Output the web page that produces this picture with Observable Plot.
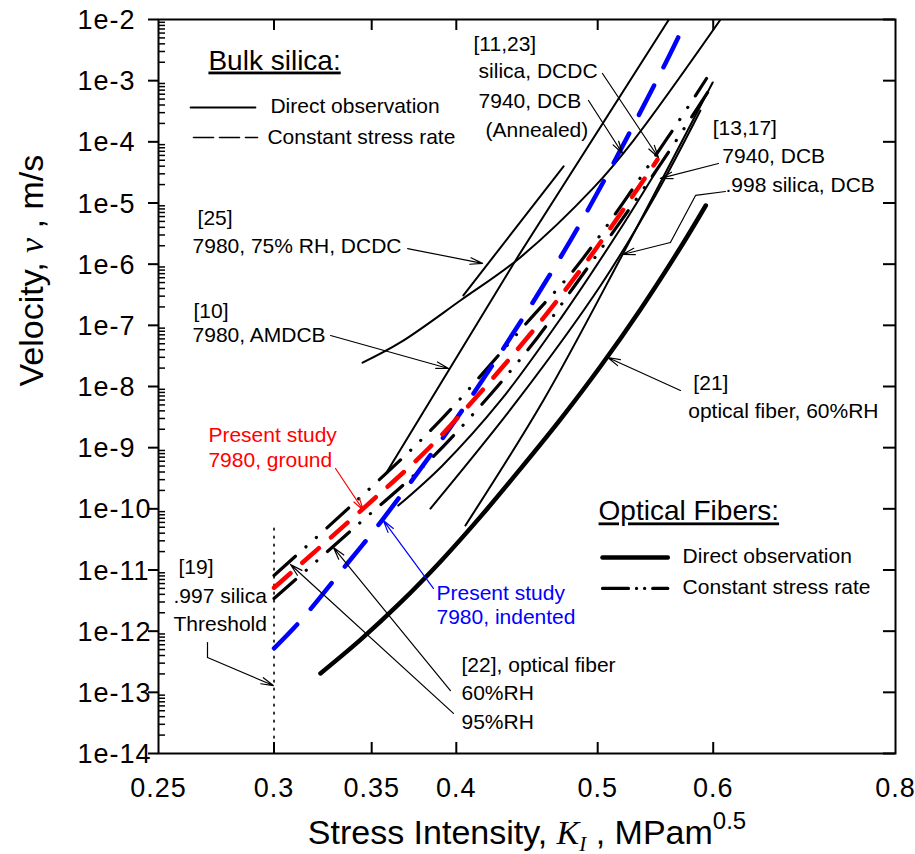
<!DOCTYPE html>
<html><head><meta charset="utf-8">
<script src="https://cdn.jsdelivr.net/npm/d3@7"></script>
<script src="https://cdn.jsdelivr.net/npm/@observablehq/plot@0.6"></script>
<style>
html,body{margin:0;padding:0;background:#fff;}
</style></head><body><div id="chart"></div>
<script>
// ---- axes ----
const xTicks = [0.25, 0.3, 0.35, 0.4, 0.5, 0.6, 0.8];
const xTickLabels = ["0.25", "0.3", "0.35", "0.4", "0.5", "0.6", "0.8"];
const xInnerTicks = [0.3, 0.35, 0.4, 0.5, 0.6];
const yTicks = [1e-2, 1e-3, 1e-4, 1e-5, 1e-6, 1e-7, 1e-8, 1e-9, 1e-10, 1e-11, 1e-12, 1e-13, 1e-14];
const yTickLabels = ["1e-2", "1e-3", "1e-4", "1e-5", "1e-6", "1e-7", "1e-8", "1e-9", "1e-10", "1e-11", "1e-12", "1e-13", "1e-14"];
const xDomain = [0.25, 0.8];
const yDomain = [1e-14, 1e-2];
const xTitle = "Stress Intensity, K I , MPam 0.5";
const yTitle = "Velocity, ν , m/s";

// ---- curves [K, v] ----
const groundStudy = [[0.300,5.13e-12],[0.3455,1.02e-10],[0.3858,1.17e-9],[0.4475,6.31e-8],[0.492,1.15e-6],[0.5495,5.13e-5]];
const indentedStudy = [[0.300,5.25e-13],[0.3128,1.48e-12],[0.3369,1.29e-11],[0.3549,6.03e-11],[0.4045,4.37e-9],[0.479,2.45e-6],[0.552,1.32e-3],[0.5755,1.0e-2]];
const fiber21 = [[0.3228,2.04e-13],[0.3438,7.21e-13],[0.3662,2.92e-12],[0.3902,1.38e-11],[0.4156,7.45e-11],[0.4425,4.47e-10],[0.4716,2.93e-9],[0.5023,2.14e-8],[0.5349,1.82e-7],[0.5698,1.87e-6],[0.593,9.1e-6]];
const fiber22RH95 = [[0.300,8.15e-12],[0.3401,1.22e-10],[0.3871,2.31e-9],[0.4497,1.29e-7],[0.4843,9.51e-7],[0.5585,1.18e-4],[0.5937,1.085e-3]];
const fiber22RH60 = [[0.300,3.42e-12],[0.3401,4.78e-11],[0.3858,7.18e-10],[0.4475,3.88e-8],[0.4812,4.16e-7],[0.5495,3.66e-5],[0.5995,8.66e-4]];
const dcdc25 = [[0.4045,3.09e-7],[0.4738,3.98e-5]];
const amdcb10 = [[0.3576,3.65e-10],[0.3963,2.04e-8],[0.4405,1.29e-6],[0.5595,1e-2]];
const annealed7940 = [[0.345,2.45e-8],[0.3662,5.25e-8],[0.4028,2.57e-7],[0.4425,1.29e-6],[0.4968,1.78e-5],[0.529,1.05e-4],[0.607,1e-2]];
const silicaDcdc = [[0.365,1.13e-10],[0.3914,5.12e-10],[0.429,5.91e-9],[0.4716,1.29e-7],[0.5184,3.83e-6],[0.5477,3.16e-5]];
const dcb7940 = [[0.384,1.01e-10],[0.4405,5.91e-9],[0.5023,4.48e-7],[0.5477,1.33e-5],[0.588,3.25e-4]];
const dcb998 = [[0.4058,5.35e-11],[0.4589,5.91e-9],[0.52,1.44e-6],[0.5566,3.16e-5],[0.5995,9.33e-4]];
const threshold19 = [[0.3,4.8e-11],[0.3,1e-14]];

// ---- legend samples ----
const bulkLegendSolid = [[0.263,3.64e-4],[0.2913,3.64e-4]];
const bulkLegendDashed = [[0.2642,1.18e-4],[0.2923,1.18e-4]];
const fiberLegendSolid = [[0.5038,1.6e-11],[0.5585,1.6e-11]];
const fiberLegendDashDot = [[0.5038,4.99e-12],[0.5585,4.99e-12]];

// ---- annotations ----
const notes = [
  {t:"[25]", x:0.2659, y:4.29e-6, c:"black"},
  {t:"7980, 75% RH, DCDC", x:0.2638, y:1.55e-6, c:"black"},
  {t:"[10]", x:0.2642, y:1.34e-7, c:"black"},
  {t:"7980, AMDCB", x:0.2638, y:5.25e-8, c:"black"},
  {t:"[11,23]", x:0.411, y:3.11e-3, c:"black"},
  {t:"silica, DCDC", x:0.4143, y:1.085e-3, c:"black"},
  {t:"7940, DCB", x:0.4143, y:3.64e-4, c:"black"},
  {t:"(Annealed)", x:0.4189, y:1.18e-4, c:"black"},
  {t:"[13,17]", x:0.5995, y:1.27e-4, c:"black"},
  {t:"7940, DCB", x:0.6087, y:4.59e-5, c:"black"},
  {t:".998 silica, DCB", x:0.6117, y:1.54e-5, c:"black"},
  {t:"[21]", x:0.5815, y:8.61e-9, c:"black"},
  {t:"optical fiber, 60%RH", x:0.5768, y:3.11e-9, c:"black"},
  {t:"Present study", x:0.2705, y:1.22e-9, c:"#ff0000"},
  {t:"7980, ground", x:0.2705, y:4.74e-10, c:"#ff0000"},
  {t:"Present study", x:0.3877, y:3.18e-12, c:"#0000ff"},
  {t:"7980, indented", x:0.3877, y:1.29e-12, c:"#0000ff"},
  {t:"[22], optical fiber", x:0.4033, y:2.19e-13, c:"black"},
  {t:"60%RH", x:0.4033, y:7.36e-14, c:"black"},
  {t:"95%RH", x:0.4033, y:2.56e-14, c:"black"},
  {t:"[19]", x:0.258, y:8.45e-12, c:"black"},
  {t:".997 silica", x:0.256, y:2.94e-12, c:"black"},
  {t:"Threshold", x:0.256, y:9.89e-13, c:"black"},
  {t:"Direct observation", x:0.2983, y:2.91e-4, c:"black"},
  {t:"Constant stress rate", x:0.2969, y:9.05e-5, c:"black"},
  {t:"Direct observation", x:0.5717, y:1.28e-11, c:"black"},
  {t:"Constant stress rate", x:0.5717, y:3.98e-12, c:"black"}
];
const heads = [
  {t:"Bulk silica:", x:0.2705, y:1.52e-3},
  {t:"Optical Fibers:", x:0.5007, y:6.46e-11}
];
const arrows = [
  {x1:0.3704,y1:1.80e-6,x2:0.4169,y2:1.03e-6,c:"black"},
  {x1:0.328,y1:6.82e-8,x2:0.3951,y2:1.97e-8,c:"black"},
  {x1:0.5038,y1:1.31e-3,x2:0.5503,y2:5.55e-5,c:"black"},
  {x1:0.4928,y1:4.74e-4,x2:0.52,y2:6.45e-5,c:"black"},
  {x1:0.605,y1:4.43e-5,x2:0.552,y2:2.52e-5,c:"black"},
  {x1:0.5608,y1:2.26e-6,x2:0.52,y2:1.44e-6,c:"black"},
  {x1:0.5698,y1:8.61e-9,x2:0.508,y2:2.98e-8,c:"black"},
  {x1:0.3306,y1:4.57e-10,x2:0.3455,y2:9.40e-11,c:"#ff0000"},
  {x1:0.3858,y1:4.99e-12,x2:0.3565,y2:6.46e-11,c:"#0000ff"},
  {x1:0.3963,y1:1.07e-13,x2:0.3295,y2:2.33e-11,c:"black"},
  {x1:0.3982,y1:4.52e-14,x2:0.3079,y2:1.23e-11,c:"black"},
  {x1:0.2701,y1:3.72e-13,x2:0.2997,y2:1.29e-13,c:"black"}
];
const leader998 = [[0.6117,1.54e-5],[0.5835,1.33e-5],[0.5608,2.26e-6]];
const leaderThreshold = [[0.2701,6.53e-13],[0.2701,3.72e-13]];

// minor log ticks (2..9 within each decade)
const yMinor = [];
for (let e = -14; e < -2; e++) for (let m = 2; m <= 9; m++) yMinor.push(m * Math.pow(10, e));

const W = 737, H = 734;
// K value lying a given number of pixels right of the left frame edge (used only for tick lengths)
const xAtPx = (px) => xDomain[0] * Math.pow(xDomain[1] / xDomain[0], px / W);
const sans = "'Liberation Sans', Arial, sans-serif";
const serif = "'Liberation Serif', 'Times New Roman', serif";
const L = (data, o) => Plot.line(data, {x: d => d[0], y: d => d[1], clip: true, stroke: "black", strokeWidth: 2, ...o});

const svg = Plot.plot({
  width: 915, height: 854,
  marginTop: 19, marginBottom: 101, marginLeft: 158, marginRight: 20,
  x: {type: "log", domain: xDomain, axis: null},
  y: {type: "log", domain: yDomain, axis: null},
  style: {fontFamily: sans, background: "white", color: "black"},
  marks: [
    // curves
    L(threshold19, {strokeWidth: 1.6, strokeDasharray: "1.6,6.4"}),
    L(dcdc25, {}),
    L(amdcb10, {}),
    L(annealed7940, {curve: "catmull-rom"}),
    L(silicaDcdc, {curve: "catmull-rom"}),
    L(dcb7940, {curve: "catmull-rom"}),
    L(dcb998, {curve: "catmull-rom"}),
    L(fiber21, {curve: "catmull-rom", strokeWidth: 4.5}),
    L(fiber22RH95, {curve: "catmull-rom", strokeWidth: 3.2, strokeLinecap: "round", strokeDasharray: "29,14,0.1,14,0.1,14"}),
    L(fiber22RH60, {curve: "catmull-rom", strokeWidth: 3.2, strokeLinecap: "round", strokeDasharray: "29,14,0.1,14,0.1,14"}),
    L(indentedStudy, {curve: "catmull-rom", stroke: "#0000ff", strokeWidth: 4.5, strokeLinecap: "round", strokeDasharray: "33,21"}),
    L(groundStudy, {curve: "catmull-rom", stroke: "#ff0000", strokeWidth: 4.5, strokeLinecap: "round", strokeDasharray: "22,16"}),
    // legend samples
    L(bulkLegendSolid, {strokeWidth: 2}),
    L(bulkLegendDashed, {strokeWidth: 1.6, strokeDasharray: "20,6"}),
    L(fiberLegendSolid, {strokeWidth: 4.5}),
    L(fiberLegendDashDot, {strokeWidth: 3.2, strokeLinecap: "round", strokeDasharray: "26,8,0.1,8,0.1,8"}),
    // leaders
    L(leader998, {strokeWidth: 1.2}),
    L(leaderThreshold, {strokeWidth: 1.2}),
    Plot.arrow(arrows, {x1: "x1", y1: "y1", x2: "x2", y2: "y2", stroke: d => d.c, strokeWidth: 1.2, headLength: 16, headAngle: 30}),
    // annotation text
    Plot.text(notes, {x: "x", y: "y", text: "t", fill: d => d.c, fontSize: 21, textAnchor: "start", lineAnchor: "bottom"}),
    Plot.text(heads, {x: "x", y: "y", text: "t", fontSize: 28, textAnchor: "start", lineAnchor: "bottom"}),
    // frame and ticks
    Plot.frame({stroke: "black", strokeWidth: 2}),
    Plot.tickX(xInnerTicks, {x: d => d, insetTop: H - 11, strokeWidth: 2}),
    Plot.tickX(xInnerTicks, {x: d => d, insetBottom: H - 11, strokeWidth: 2}),
    Plot.tickY(yTicks, {y: d => d, insetLeft: W - 12, strokeWidth: 2}),
    Plot.ruleY(yTicks, {y: d => d, x1: xAtPx(-10), x2: xAtPx(0), strokeWidth: 2}),
    Plot.ruleY(yMinor, {y: d => d, x1: xAtPx(0), x2: xAtPx(7), strokeWidth: 1.5}),
    // tick labels
    Plot.text(yTicks, {y: d => d, text: (d, i) => yTickLabels[i], frameAnchor: "left", dx: -81, dy: 1, textAnchor: "start", lineAnchor: "middle", fontSize: 27}),
    Plot.text(xTicks, {x: d => d, text: (d, i) => xTickLabels[i], frameAnchor: "bottom", dy: 24, lineAnchor: "top", fontSize: 27}),
    // titles
    Plot.text([xTitle], {text: d => d, frameAnchor: "bottom", dy: 90, lineAnchor: "bottom", fontSize: 34}),
    Plot.text([yTitle], {text: d => d, frameAnchor: "left", dx: -116, rotate: -90, lineAnchor: "bottom", fontSize: 34})
  ]
});

const s = d3.select(svg);
const headSet = new Set(heads.map(d => d.t));
const tickSet = new Set([...xTickLabels, ...yTickLabels]);
s.selectAll("text").each(function () {
  const el = d3.select(this);
  const t = this.textContent;
  if (headSet.has(t)) el.style("text-decoration", "underline");
  else if (tickSet.has(t)) el.style("letter-spacing", "1px");
  else if (t === xTitle) {
    el.text(null);
    el.append("tspan").text("Stress Intensity, ");
    el.append("tspan").attr("font-family", serif).attr("font-style", "italic").text("K");
    el.append("tspan").attr("font-family", serif).attr("font-style", "italic").attr("font-size", 21).attr("dy", 7).text("I");
    el.append("tspan").attr("dy", -7).text(" , MPam");
    el.append("tspan").attr("font-size", 24).attr("dy", -15).text("0.5");
  } else if (t === yTitle) {
    el.text(null);
    el.append("tspan").text("Velocity, ");
    el.append("tspan").attr("font-family", serif).attr("font-style", "italic").text("ν");
    el.append("tspan").text(" , m/s");
  }
});

document.getElementById("chart").appendChild(svg);
</script>
</body></html>
